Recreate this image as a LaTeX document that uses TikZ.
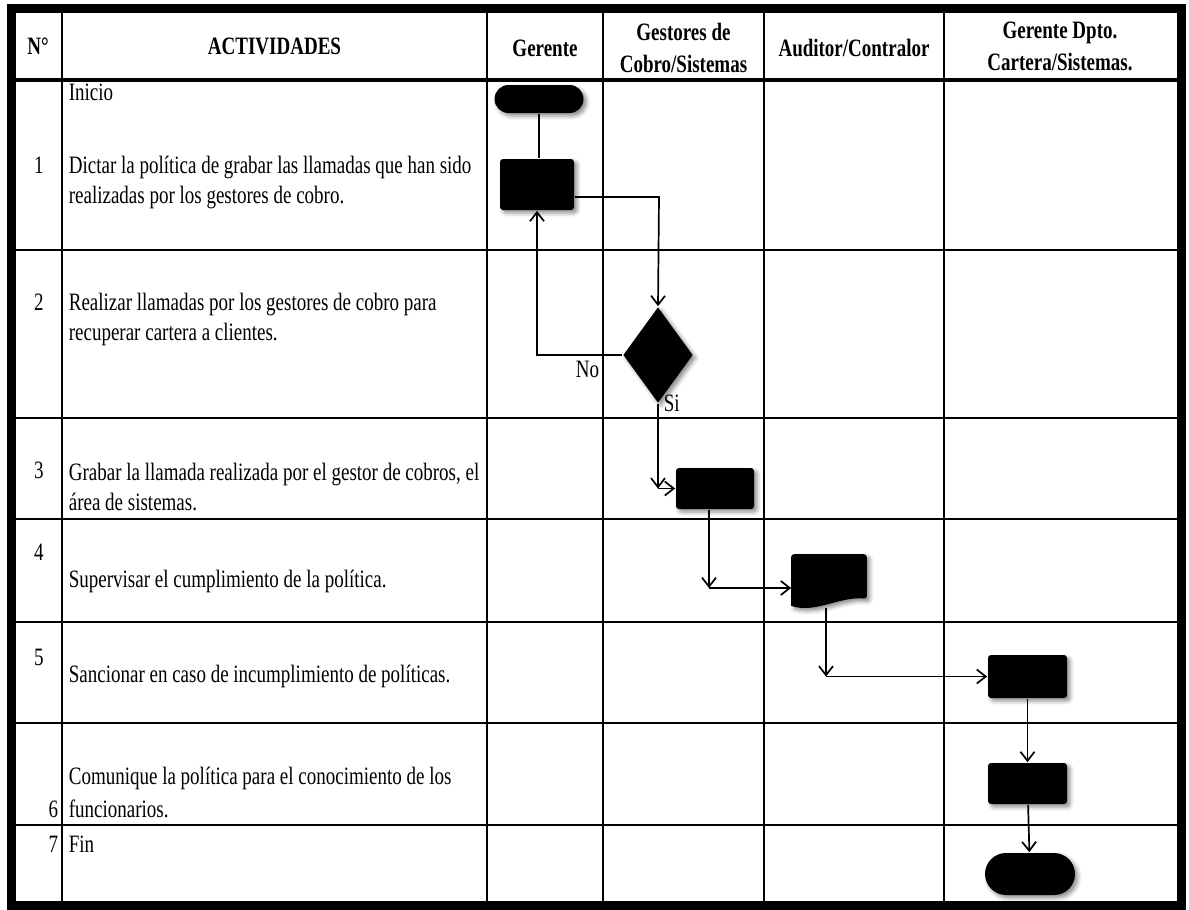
\documentclass[tikz,border=0pt]{standalone}
\usepackage{fontspec}
\setmainfont{Liberation Serif}[FakeStretch=0.76]
\usetikzlibrary{shapes.geometric, shapes.misc, arrows.meta, shadows.blur}
\tikzset{>={Straight Barb[length=9pt, width=14pt]},
  every node/.style={font=\fontsize{25}{30}\selectfont, inner sep=0pt},
  sombra/.style={blur shadow={shadow xshift=3pt, shadow yshift=-3pt, shadow blur radius=4pt, shadow opacity=45}},
  paso/.style={rectangle, rounded corners=3pt, fill=black, sombra},
  terminal/.style={rounded rectangle, fill=black, sombra},
  decision/.style={diamond, fill=black, minimum width=70pt, minimum height=96pt, sombra},
  cabecera/.style={font=\fontsize{25}{32}\selectfont\bfseries, align=center},
  actividad/.style={anchor=base west},
  numero/.style={anchor=base},
}

\begin{document}
\begin{tikzpicture}[x=1pt, y=-1pt, line width=1.7pt]
        \useasboundingbox (0,0) rectangle (1189,910);

        % tabla
        \draw[line width=3.5pt] (15,80) -- (1177,80);
        \draw[line width=2.5pt] (15,250) -- (1177,250)
                  (15,418) -- (1177,418)
                  (15,519) -- (1177,519)
                  (15,622) -- (1177,622)
                  (15,723) -- (1177,723)
                  (15,825) -- (1177,825)
                  (62,12) -- (62,901)
                  (487,12) -- (487,901)
                  (603,12) -- (603,901)
                  (764,12) -- (764,901)
                  (944,12) -- (944,901);
        \draw[line width=9pt] (11,8) rectangle (1181,905);

        % encabezados
        \node[cabecera] at (38,46) (hNum) {N°};
        \node[cabecera] at (274.5,46) (hAct) {ACTIVIDADES};
        \node[cabecera] at (545,48) (hGer) {Gerente};
        \node[cabecera] at (683.5,48) (hGes) {Gestores de\\Cobro/Sistemas};
        \node[cabecera] at (854,48) (hAud) {Auditor/Contralor};
        \node[cabecera] at (1060,46) (hDpto) {Gerente Dpto.\\Cartera/Sistemas.};

        % actividades
        \node[actividad] at (68,100) (tIni) {Inicio};
        \node[numero] at (39,173) (n1) {1};
        \node[actividad] at (68,173) (t1a) {Dictar la política de grabar las llamadas que han sido};
        \node[actividad] at (68,203) (t1b) {realizadas por los gestores de cobro.};
        \node[numero] at (39,310) (n2) {2};
        \node[actividad] at (68,310) (t2a) {Realizar llamadas por los gestores de cobro para};
        \node[actividad] at (68,340) (t2b) {recuperar cartera a clientes.};
        \node[numero] at (39,478) (n3) {3};
        \node[actividad] at (68,480) (t3a) {Grabar la llamada realizada por el gestor de cobros, el};
        \node[actividad] at (68,510) (t3b) {área de sistemas.};
        \node[numero] at (39,560) (n4) {4};
        \node[actividad] at (68,587) (t4) {Supervisar el cumplimiento de la política.};
        \node[numero] at (39,665) (n5) {5};
        \node[actividad] at (68,682) (t5) {Sancionar en caso de incumplimiento de políticas.};
        \node[actividad] at (68,784) (t6a) {Comunique la política para el conocimiento de los};
        \node[actividad] at (68,817) (t6b) {funcionarios.};
        \node[anchor=base east] at (59,817) (n6) {6};
        \node[anchor=base east] at (59,852) (n7) {7};
        \node[actividad] at (68,852) (t7) {Fin};

        % diagrama
        \node[terminal, minimum width=89pt, minimum height=28pt] at (539,99) (inicio) {};
        \node[paso, minimum width=74pt, minimum height=51pt] at (537,184.5) (p1) {};
        \node[decision] at (658,355) (dec) {};
        \node[paso, minimum width=78pt, minimum height=41pt] at (715,488.5) (p3) {};
        \node[minimum width=74pt, minimum height=50pt] at (829,580) (doc) {};
        \fill[sombra, rounded corners=3pt] (doc.south west) -- (doc.north west) -- (doc.north east) -- ([yshift=7pt]doc.south east)
                  [sharp corners] .. controls (840,596) and (815,614) .. (doc.south west) -- cycle;
        \node[paso, minimum width=79pt, minimum height=43pt] at (1027.5,676.5) (p5) {};
        \node[paso, minimum width=79pt, minimum height=41pt] at (1027.5,783.5) (p6) {};
        \node[terminal, minimum width=90pt, minimum height=42pt] at (1030,874) (fin) {};

        \coordinate (c1) at (659,197);
        \coordinate (c2) at (dec.south |- p3);
        \coordinate (c3) at (709,588);
        \coordinate (c4) at (826,676.5);

        \node[anchor=base west] at (575,377) (lNo) {No};
        \node[anchor=base west] at (663,411) (lSi) {Si};

        \draw (inicio.south) -- (inicio.south |- p1.north);
        \draw[->] (p1.east |- c1) -- (c1) -- (dec.north);
        \draw[->] (dec.west) -| (p1.south);
        \draw[->] (dec.south) -- (c2);
        \draw[->] (c2) -- (p3.west);
        \draw[->] (p3.south -| c3) -- (c3);
        \draw[->] (c3) -- (doc.west |- c3);
        \draw[->] ([yshift=-2pt]doc.south -| c4) -- (c4);
        \draw[->] (c4) -- (p5.west);
        \draw[->] (p5) -- (p6);
        \draw[->] (p6) -- (fin);
    \end{tikzpicture}
\end{document}
